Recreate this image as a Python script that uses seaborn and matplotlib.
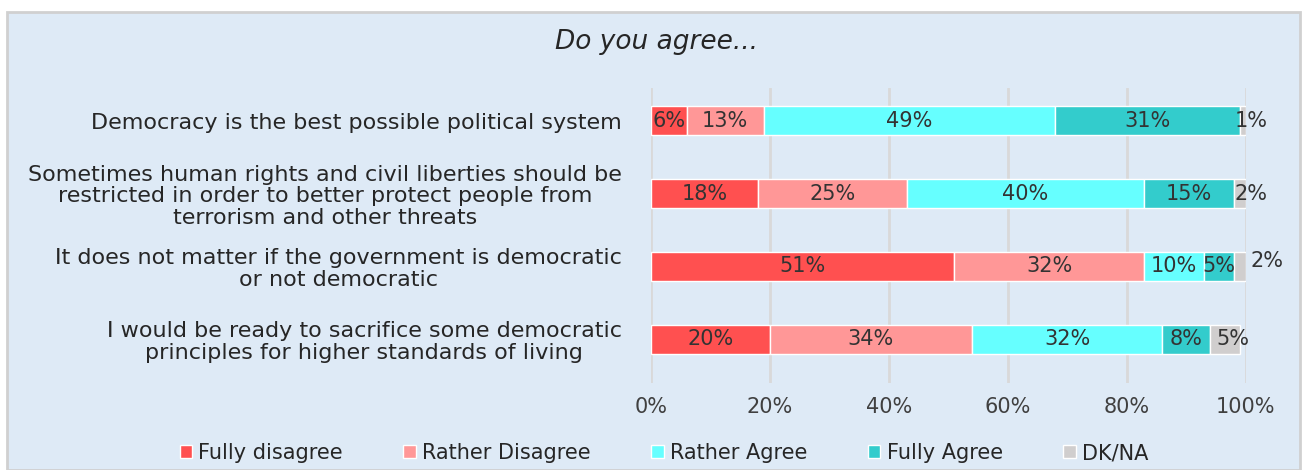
import numpy as np
import pandas as pd
import seaborn as sns
import matplotlib.pyplot as plt
from matplotlib.patches import Rectangle

# Survey data (percent)
statements = [
    "Democracy is the best possible political system",
    "Sometimes human rights and civil liberties should be\nrestricted in order to better protect people from\nterrorism and other threats",
    "It does not matter if the government is democratic\nor not democratic",
    "I would be ready to sacrifice some democratic\nprinciples for higher standards of living",
]
answers = ["Fully disagree", "Rather Disagree", "Rather Agree", "Fully Agree", "DK/NA"]
fully_disagree = [6, 18, 51, 20]
rather_disagree = [13, 25, 32, 34]
rather_agree = [49, 40, 10, 32]
fully_agree = [31, 15, 5, 8]
dk_na = [1, 2, 2, 5]
colors = ["#FF5050", "#FF9797", "#66FFFF", "#33CCCC", "#D0CECE"]

df = pd.DataFrame({
    "statement": statements,
    "Fully disagree": fully_disagree,
    "Rather Disagree": rather_disagree,
    "Rather Agree": rather_agree,
    "Fully Agree": fully_agree,
    "DK/NA": dk_na,
})

sns.set_theme(style="white")
plt.rcParams["font.family"] = ["DejaVu Sans"]

fig = plt.figure(figsize=(13.07, 4.70), dpi=100)
fig.patch.set_facecolor("white")
# light blue panel with grey border
fig.patches.append(Rectangle((0.005, 0.0), 0.99, 0.975, transform=fig.transFigure,
                             facecolor="#DEEAF6", edgecolor="#D0D0D0", linewidth=2, zorder=-1))

ax = fig.add_axes([0.498, 0.185, 0.455, 0.628])
ax.set_facecolor("none")

left = np.zeros(len(df))
ypos = np.arange(len(df))
for ans, col in zip(answers, colors):
    vals = df[ans].values
    bars = ax.barh(ypos, vals, left=left, height=0.4, color=col, label=ans, zorder=3)
    anns = ax.bar_label(bars, labels=[f"{v}%" for v in vals], label_type="center",
                        fontsize=15, color="#333333", zorder=4)
    if ans == "DK/NA":
        # third row: label pushed out to the right, like the original
        anns[2].xyann = (20, 4)
        anns[1].xyann = (8, 0)
        anns[0].xyann = (6, 0)
        anns[3].xyann = (6, 0)
    left += vals

ax.set_xlim(0, 100)
ax.set_ylim(3.6, -0.45)
ax.set_xticks(np.arange(0, 101, 20))
ax.set_xticklabels([f"{t}%" for t in range(0, 101, 20)])
ax.set_yticks(ypos)
ax.set_yticklabels(statements, multialignment="center", linespacing=1.1)
ax.tick_params(axis="x", length=0, pad=10, labelsize=15, labelcolor="#404040")
ax.tick_params(axis="y", length=0, pad=21, labelsize=16, labelcolor="#262626")
ax.xaxis.grid(True, color="#D9D9D9", linewidth=2, zorder=0)
for s in ax.spines.values():
    s.set_visible(False)

fig.text(0.502, 0.91, "Do you agree...", ha="center", va="center",
         fontsize=19, style="italic", color="#262626")

fig.legend(loc="center", bbox_to_anchor=(0.508, 0.036), ncol=5, frameon=False,
           fontsize=15, handlelength=0.6, handleheight=0.6, handletextpad=0.3,
           columnspacing=2.9, labelcolor="#262626")

fig.savefig("out.png", dpi=100, facecolor=fig.get_facecolor())
